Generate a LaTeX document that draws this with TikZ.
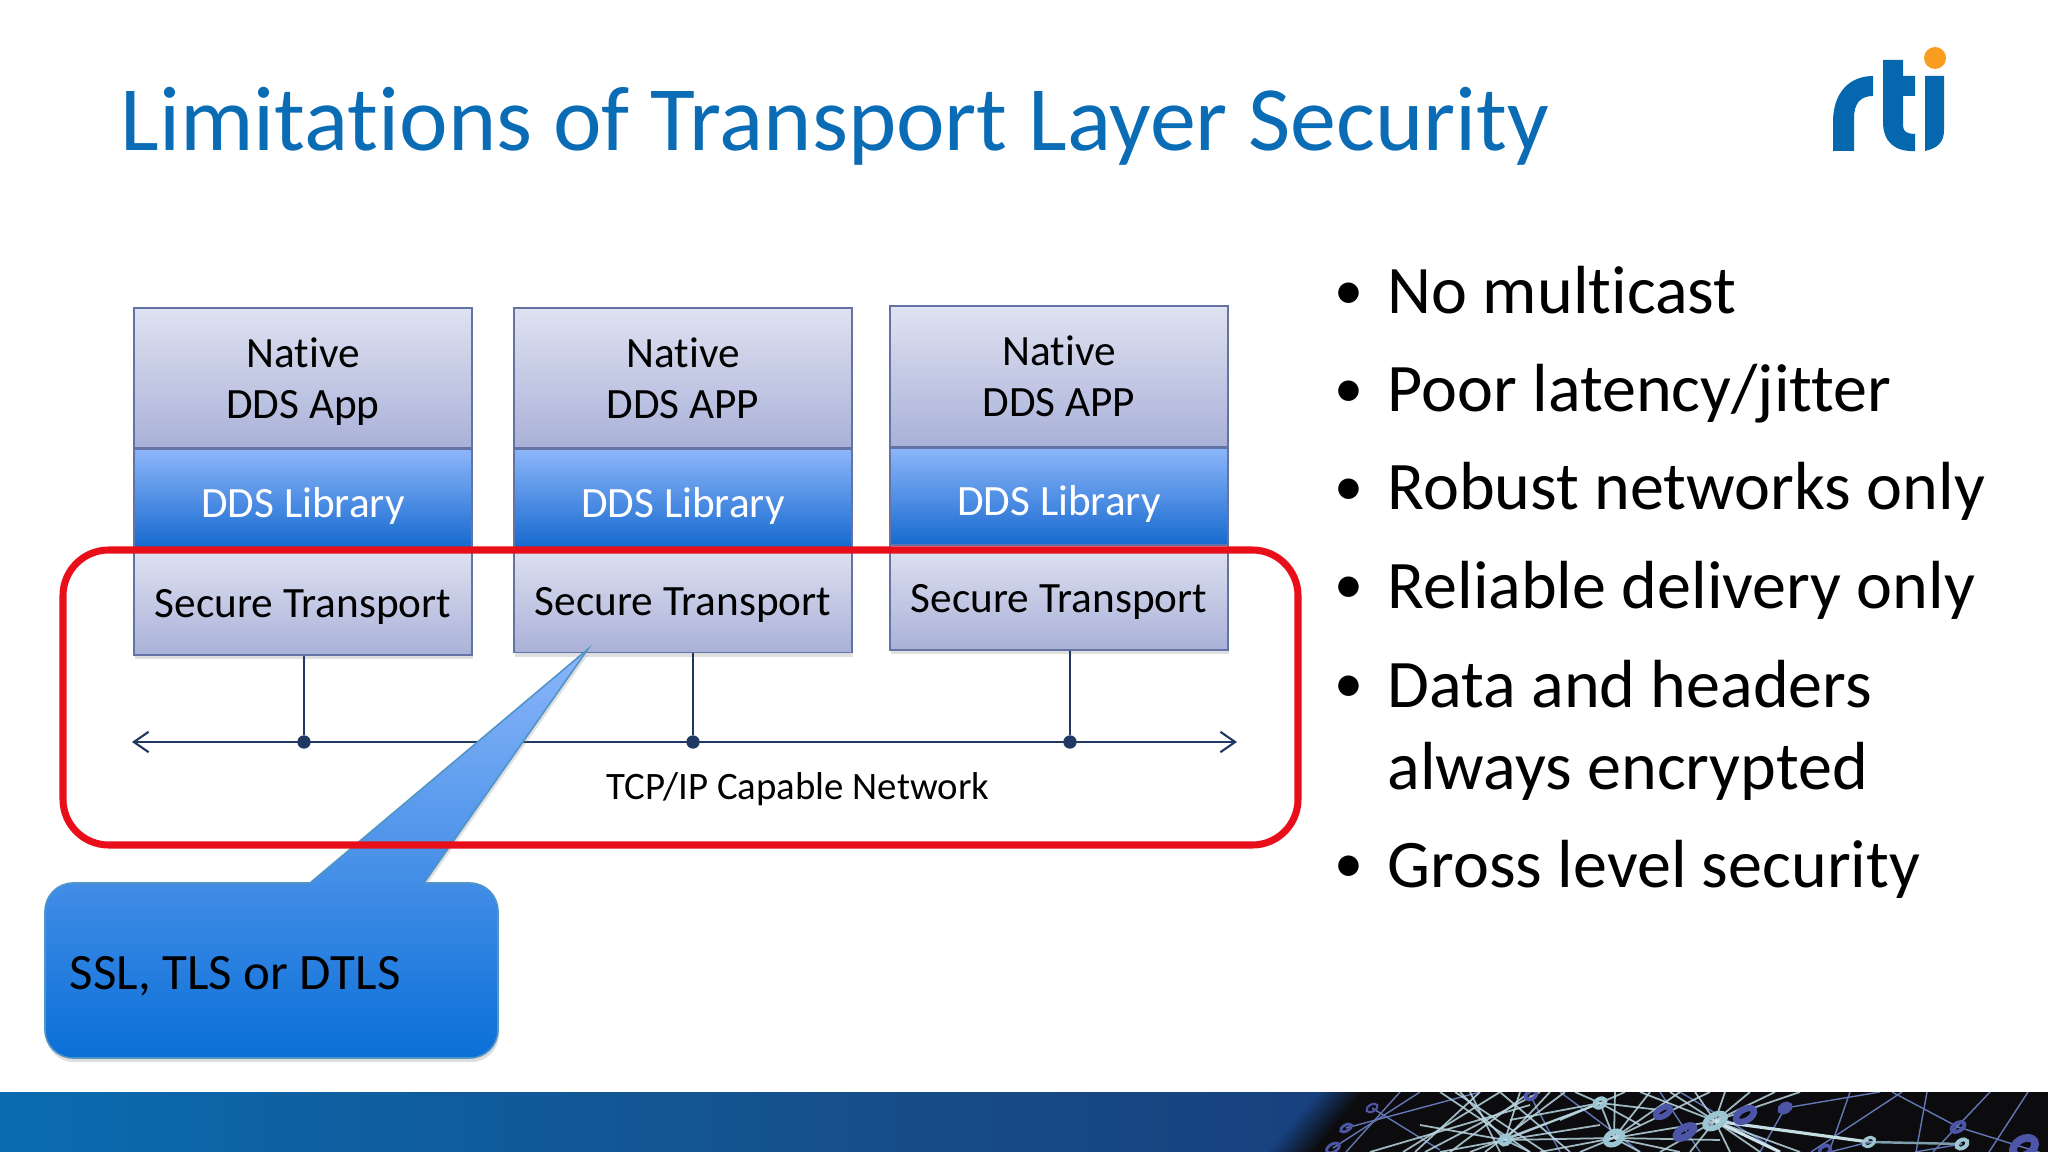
\documentclass[tikz,border=0pt]{standalone}
\usepackage{fontspec}
\setmainfont{Carlito}[Ligatures=NoCommon]
\usetikzlibrary{shadows,arrows.meta}
\definecolor{rtiblue}{HTML}{0568AE}
\definecolor{titleblue}{HTML}{0B6CB6}
\definecolor{rtiorange}{HTML}{F99D20}
\definecolor{netnavy}{HTML}{1F3864}
\definecolor{boxedge}{HTML}{6473A3}
\definecolor{graytop}{HTML}{DFE2F1}
\definecolor{graybot}{HTML}{A9B1D8}
\definecolor{libtop}{HTML}{8CB6FA}
\definecolor{libbot}{HTML}{1468CE}
\definecolor{calltop}{HTML}{8CB6FA}
\definecolor{callmid}{HTML}{6FA2F0}
\definecolor{callbot}{HTML}{0A6FD8}
\definecolor{ringlight}{HTML}{9CC6D4}
\definecolor{ringdark}{HTML}{4C55A8}
\definecolor{bandleft}{HTML}{0A6BB0}
\definecolor{bandmid}{HTML}{174A85}
\definecolor{bandend}{HTML}{173F7C}
\definecolor{bandblack}{HTML}{0C0C0E}
\definecolor{ringred}{HTML}{E80F1A}
\tikzset{
  softshadow/.style={drop shadow={opacity=.25, shadow xshift=0.3pt, shadow yshift=-1.2pt}},
  nativebox/.style={draw=boxedge, line width=0.45pt, top color=graytop, bottom color=graybot, minimum width=3.38cm, minimum height=1.40cm, align=center, inner sep=0pt, font=\fontsize{12.3}{14.5}\selectfont},
  librarybox/.style={draw=boxedge, line width=0.45pt, top color=libtop, bottom color=libbot, minimum width=3.38cm, minimum height=0.99cm, text=white, inner sep=0pt, text height=10.5pt, text depth=0pt, font=\fontsize{12.3}{14.5}\selectfont},
  securebox/.style={nativebox, minimum height=1.05cm, align=none, text height=9.7pt, text depth=1pt, softshadow},
  busdot/.style={circle, fill=netnavy, inner sep=0pt, minimum size=3.8pt},
  busline/.style={netnavy, line width=0.6pt},
  bulletmark/.style={anchor=base, inner sep=0pt, yshift=1.3pt, font=\fontsize{16.5}{20}\selectfont},
  bullettext/.style={anchor=base west, inner sep=0pt, font=\fontsize{19.36}{23}\selectfont},
  faintline/.style={ringdark!70!ringlight, line width=0.4pt},
  brightline/.style={ringlight!70!white, line width=0.5pt, opacity=.85},
}
\begin{document}
\begin{tikzpicture}[x=0.01cm, y=-0.01cm]
\useasboundingbox (0,0) rectangle (2048,1152);
\fill [white](0,0) rectangle (2048,1152);

\shade [left color=bandleft, right color=bandmid](0,1092) rectangle (1000,1152);
\shade [left color=bandmid, right color=bandend](1000,1092) rectangle (1400,1152);
\foreach \i in {0,...,15}{
  \pgfmathsetmacro{\shadepct}{100-\i*100/15}
  \fill [bandend!\shadepct!bandblack](1318+\i*3,1092) -- (1422,1092) -- (1422,1152) -- (1268+\i*3,1152) -- cycle;
}
\fill [bandblack](1400,1092) rectangle (2048,1152);
\begin{scope}
\clip (1280,1092) rectangle (2048,1152);
\foreach \ax/\ay/\bx/\by in {1850/1092/1829/1152, 1902/1092/1811/1152, 1892/1092/1958/1127, 1958/1127/2048/1155, 1927/1092/1916/1152, 1990/1092/1933/1152, 2028/1092/1989/1152, 1785/1108/1880/1092, 1785/1108/1760/1152, 1400/1092/1346/1152, 1420/1092/1333/1148, 1346/1128/1480/1092, 1372/1108/1440/1150, 1660/1092/1700/1152, 1560/1092/1640/1152, 1530/1095/1560/1152, 1680/1092/1780/1152}
  \draw [faintline](\ax,\ay) -- (\bx,\by);
\foreach \ex/\ey in {1640/1092, 1670/1092, 1695/1092, 1725/1092, 1750/1092, 1775/1092, 1800/1092, 1690/1152, 1660/1152, 1760/1152, 1800/1152, 1730/1152, 1614/1138}
  \draw [brightline](1715,1121) -- (\ex,\ey);
\foreach \ex/\ey in {1505/1140, 1540/1152, 1600/1103, 1580/1152, 1650/1092, 1680/1092, 1710/1092, 1640/1152, 1680/1152, 1720/1140, 1615/1092}
  \draw [brightline](1614,1138) -- (\ex,\ey);
\foreach \ex/\ey in {1505/1140, 1510/1120, 1470/1152, 1560/1120, 1625/1092, 1575/1092, 1640/1125, 1660/1110}
  \draw [brightline](1600,1103) -- (\ex,\ey);
\foreach \ex/\ey in {1460/1092, 1520/1092, 1550/1092, 1440/1152, 1530/1152, 1420/1125, 1600/1125}
  \draw [brightline](1505,1140) -- (\ex,\ey);
\foreach \ax/\ay/\bx/\by in {1403/1152/1500/1092, 1425/1152/1540/1092, 1450/1152/1530/1092, 1470/1092/1500/1152, 1440/1092/1530/1152, 1500/1092/1570/1152, 1370/1152/1530/1105, 1415/1152/1480/1092, 1455/1092/1545/1152, 1485/1152/1565/1092}
  \draw [brightline](\ax,\ay) -- (\bx,\by);
\draw [ringlight!60!white, line width=0.9pt](1715,1121) -- (1869,1142);
\draw [ringlight!50!white, line width=0.9pt](1715,1121) -- (1780,1152);
\draw [ringlight!80!black, line width=0.7pt](1869,1142) -- (1962,1144);
\draw [faintline](1869,1142) -- (1830,1152);
\draw [faintline](1962,1144) -- (1915,1152);
\foreach \rx/\ry/\ra/\rb/\rw in {1372/1108/6/3.5/.6, 1346/1128/6/3/.8, 1333/1148/7/4/.8, 1531/1095/6/4/1, 1663/1112/8/4/1.6, 1685/1132/10/4.5/2, 1745/1115/10/5.5/1.8, 1785/1108/5/3/1.6, 1958/1127/7/4/1.1, 1825/1150/6/4/1, 2024/1147/12/8/2.2}
  \draw [ringdark, line width=\rw pt](\rx,\ry) ellipse [x radius=\ra, y radius=\rb, rotate=30];
\foreach \rx/\ry/\ra/\rb/\rw in {1715/1121/11/6/1.6, 1614/1138/9/6/1.5, 1600/1103/6/4/1.2, 1505/1140/5/4/1.3, 1869/1142/6/4/.9, 1962/1144/6/4/1.1}
  \draw [ringlight, line width=\rw pt](\rx,\ry) ellipse [x radius=\ra, y radius=\rb, rotate=30];
\end{scope}

\node [anchor=base west, text=titleblue, inner sep=0pt, font=\fontsize{26.15}{30}\selectfont] (titletext) at (120,151) {Limitations of Transport Layer Security};

\fill [rtiblue](1833,151) -- (1833,122) .. controls (1833,92) and (1850,76) .. (1873,76) -- (1873,96) .. controls (1860,96) and (1854,104) .. (1854,118) -- (1854,151) -- cycle;
\fill [rtiblue](1883,60) -- (1903,60) -- (1903,76) -- (1915,76) -- (1915,96) -- (1903,96) -- (1903,126) .. controls (1903,132) and (1908,134) .. (1915,134) -- (1915,151) .. controls (1895,152) and (1883,142) .. (1883,122) -- cycle;
\fill [rtiblue](1925,76) -- (1944,76) -- (1944,130) .. controls (1944,142) and (1938,148) .. (1925,151) -- cycle;
\fill [rtiorange](1935,58) circle (11);

\node [nativebox, anchor=north] (app1) at (303,307) {Native\\\smash{DDS App}};
\node [librarybox, anchor=north] (lib1) at (app1.south) {DDS Library};
\node [securebox, anchor=north] (sec1) at (lib1.south) {Secure Transport};
\node [nativebox, anchor=north] (app2) at (683,307) {Native\\DDS APP};
\node [librarybox, anchor=north] (lib2) at (app2.south) {DDS Library};
\node [securebox, anchor=north] (sec2) at ([yshift=0.74pt]lib2.south) {Secure Transport};
\node [nativebox, anchor=north] (app3) at (1059,305.5) {Native\\DDS APP};
\node [librarybox, anchor=north] (lib3) at (app3.south) {DDS Library};
\node [securebox, anchor=north] (sec3) at ([yshift=1.05pt]lib3.south) {Secure Transport};

\coordinate (busleft) at (132,742);
\coordinate (busright) at (1237,742);
\node [busdot] (dot1) at (304,742) {};
\node [busdot] (dot2) at (693,742) {};
\node [busdot] (dot3) at (1070,742) {};
\draw [busline, {Straight Barb[length=4.2pt,width=5.8pt]}-{Straight Barb[length=4.2pt,width=5.8pt]}](busleft) -- (busright);
\draw [busline](dot1) -- (dot1 |- sec1.south);
\draw [busline](dot2) -- (dot2 |- sec2.south);
\draw [busline](dot3) -- (dot3 |- sec3.south);
\node [anchor=base, inner sep=0pt, font=\fontsize{11.04}{12}\selectfont] (netlabel) at (798,799) {TCP/IP Capable Network};

\draw [draw=rtiblue!70!white, line width=0.45pt, top color=calltop, middle color=callmid, bottom color=callbot, softshadow](310,883) -- (588,649) -- (424,883) [rounded corners=8pt] -- (498,883) -- (498,1058) -- (45,1058) -- (45,883) [sharp corners] -- cycle;
\node [anchor=base west, inner sep=0pt, font=\fontsize{14.5}{16}\selectfont] (calllabel) at (69,989) {SSL, TLS or DTLS};

\draw [ringred, line width=2pt, rounded corners=13pt](63,550) rectangle (1298,845);

\foreach \bname/\by/\btext in {b1/314/No multicast, b2/412/{Poor latency/jitter}, b3/510/Robust networks only, b4/608/Reliable delivery only, b5/707/Data and headers, b6/887/Gross level security}{
  \node [bulletmark] (\bname mark) at (1349,\by) {\textbullet};
  \node [bullettext] (\bname) at (1387,\by) {\btext};
}
\node [bullettext] (b5more) at (1387,789) {always encrypted};
\end{tikzpicture}
\end{document}
